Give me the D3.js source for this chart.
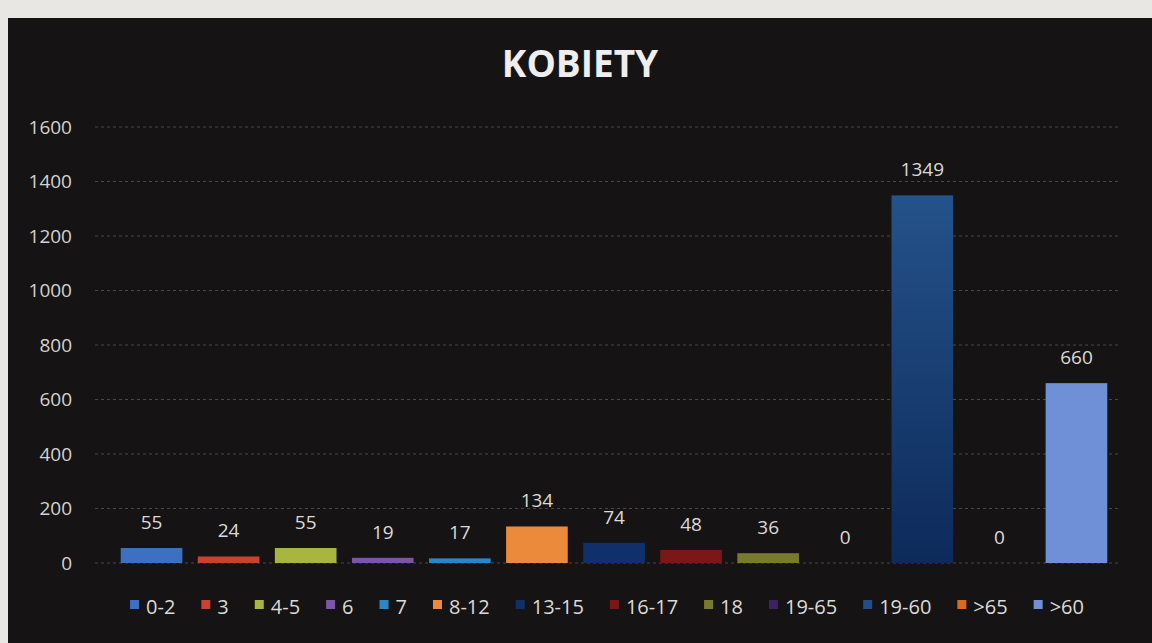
<!DOCTYPE html>
<html>
<head>
<meta charset="utf-8">
<script src="https://cdn.jsdelivr.net/npm/d3@7"></script>
<style>
  html, body { margin: 0; padding: 0; background: #e9e7e4; }
  svg { display: block; }
</style>
</head>
<body>
<div id="chart"></div>
<script>
// age groups and counts
const groups = ["0-2", "3", "4-5", "6", "7", "8-12", "13-15", "16-17", "18", "19-65", "19-60", ">65", ">60"];
const counts = [55, 24, 55, 19, 17, 134, 74, 48, 36, 0, 1349, 0, 660];
const colors = ["#3d6fc2", "#c9412f", "#a8b63f", "#7b56a6", "#2b86c6", "#ec8a3b",
  "#10306c", "#7a1818", "#7a7a2c", "#3b2262", "#1f4f86", "#d9691d", "#6f8fd6"];
const yTicks = [0, 200, 400, 600, 800, 1000, 1200, 1400, 1600];

const WIDTH = 1152, HEIGHT = 643;
const font = "'Open Sans', 'Noto Sans', sans-serif";

const svg = d3.select("#chart").append("svg")
  .attr("width", WIDTH)
  .attr("height", HEIGHT);

// dark chart panel (photo has a light strip top/left)
svg.append("rect")
  .attr("x", 8).attr("y", 18)
  .attr("width", WIDTH - 8).attr("height", HEIGHT - 18)
  .attr("fill", "#151313");

const defs = svg.append("defs");
const grad = defs.append("linearGradient")
  .attr("id", "tallbar").attr("x1", 0).attr("y1", 0).attr("x2", 0).attr("y2", 1);
grad.append("stop").attr("offset", "0%").attr("stop-color", "#24528a");
grad.append("stop").attr("offset", "100%").attr("stop-color", "#0d2a5a");

const x = d3.scaleBand()
  .domain(groups)
  .range([113, 1115])
  .paddingInner(0.2)
  .paddingOuter(0.1);

const y = d3.scaleLinear()
  .domain([0, 1600])
  .range([563, 127]);

// gridlines
svg.append("g")
  .selectAll("line")
  .data(yTicks)
  .join("line")
    .attr("x1", 95).attr("x2", 1120)
    .attr("y1", d => y(d)).attr("y2", d => y(d))
    .attr("stroke", "#4a4848")
    .attr("stroke-width", 1)
    .attr("stroke-dasharray", "3,3");

// y axis labels
const yAxis = d3.axisLeft(y).tickValues(yTicks).tickFormat(d3.format("d")).tickSize(0).tickPadding(0);
svg.append("g")
  .attr("transform", "translate(72,0)")
  .call(yAxis)
  .call(g => g.select(".domain").remove())
  .call(g => g.selectAll("text")
    .attr("fill", "#d4d2d0")
    .style("font-family", font)
    .style("font-size", "19px"));

// bars
svg.append("g")
  .selectAll("rect")
  .data(groups)
  .join("rect")
    .attr("x", d => x(d))
    .attr("y", (d, i) => y(counts[i]))
    .attr("width", x.bandwidth())
    .attr("height", (d, i) => y(0) - y(counts[i]))
    .attr("fill", (d, i) => d === "19-60" ? "url(#tallbar)" : colors[i]);

// value labels
svg.append("g")
  .selectAll("text")
  .data(groups)
  .join("text")
    .attr("x", d => x(d) + x.bandwidth() / 2)
    .attr("y", (d, i) => y(counts[i]) - 19)
    .attr("text-anchor", "middle")
    .attr("fill", "#dcdad8")
    .style("font-family", font)
    .style("font-size", "19px")
    .text((d, i) => counts[i]);

// title
svg.append("text")
  .attr("x", 580)
  .attr("y", 77)
  .attr("text-anchor", "middle")
  .attr("fill", "#eeeeee")
  .style("font-family", font)
  .style("font-weight", "bold")
  .style("font-size", "37px")
  .text("KOBIETY");

// legend, laid out left to right then centred
const legend = svg.append("g");
const items = legend.selectAll("g")
  .data(groups)
  .join("g");

items.append("rect")
  .attr("width", 9).attr("height", 9)
  .attr("y", -7)
  .attr("fill", (d, i) => colors[i]);

items.append("text")
  .attr("x", 16)
  .attr("y", 0)
  .attr("dy", "0.33em")
  .attr("fill", "#dcdad8")
  .style("font-family", font)
  .style("font-size", "20px")
  .text(d => d);

const gap = 26;
let cursor = 0;
items.each(function () {
  const w = d3.select(this).select("text").node().getComputedTextLength();
  d3.select(this).attr("transform", `translate(${cursor},0)`);
  cursor += 16 + w + gap;
});
const legendWidth = cursor - gap;
legend.attr("transform", `translate(${607 - legendWidth / 2},607)`);
</script>
</body>
</html>
